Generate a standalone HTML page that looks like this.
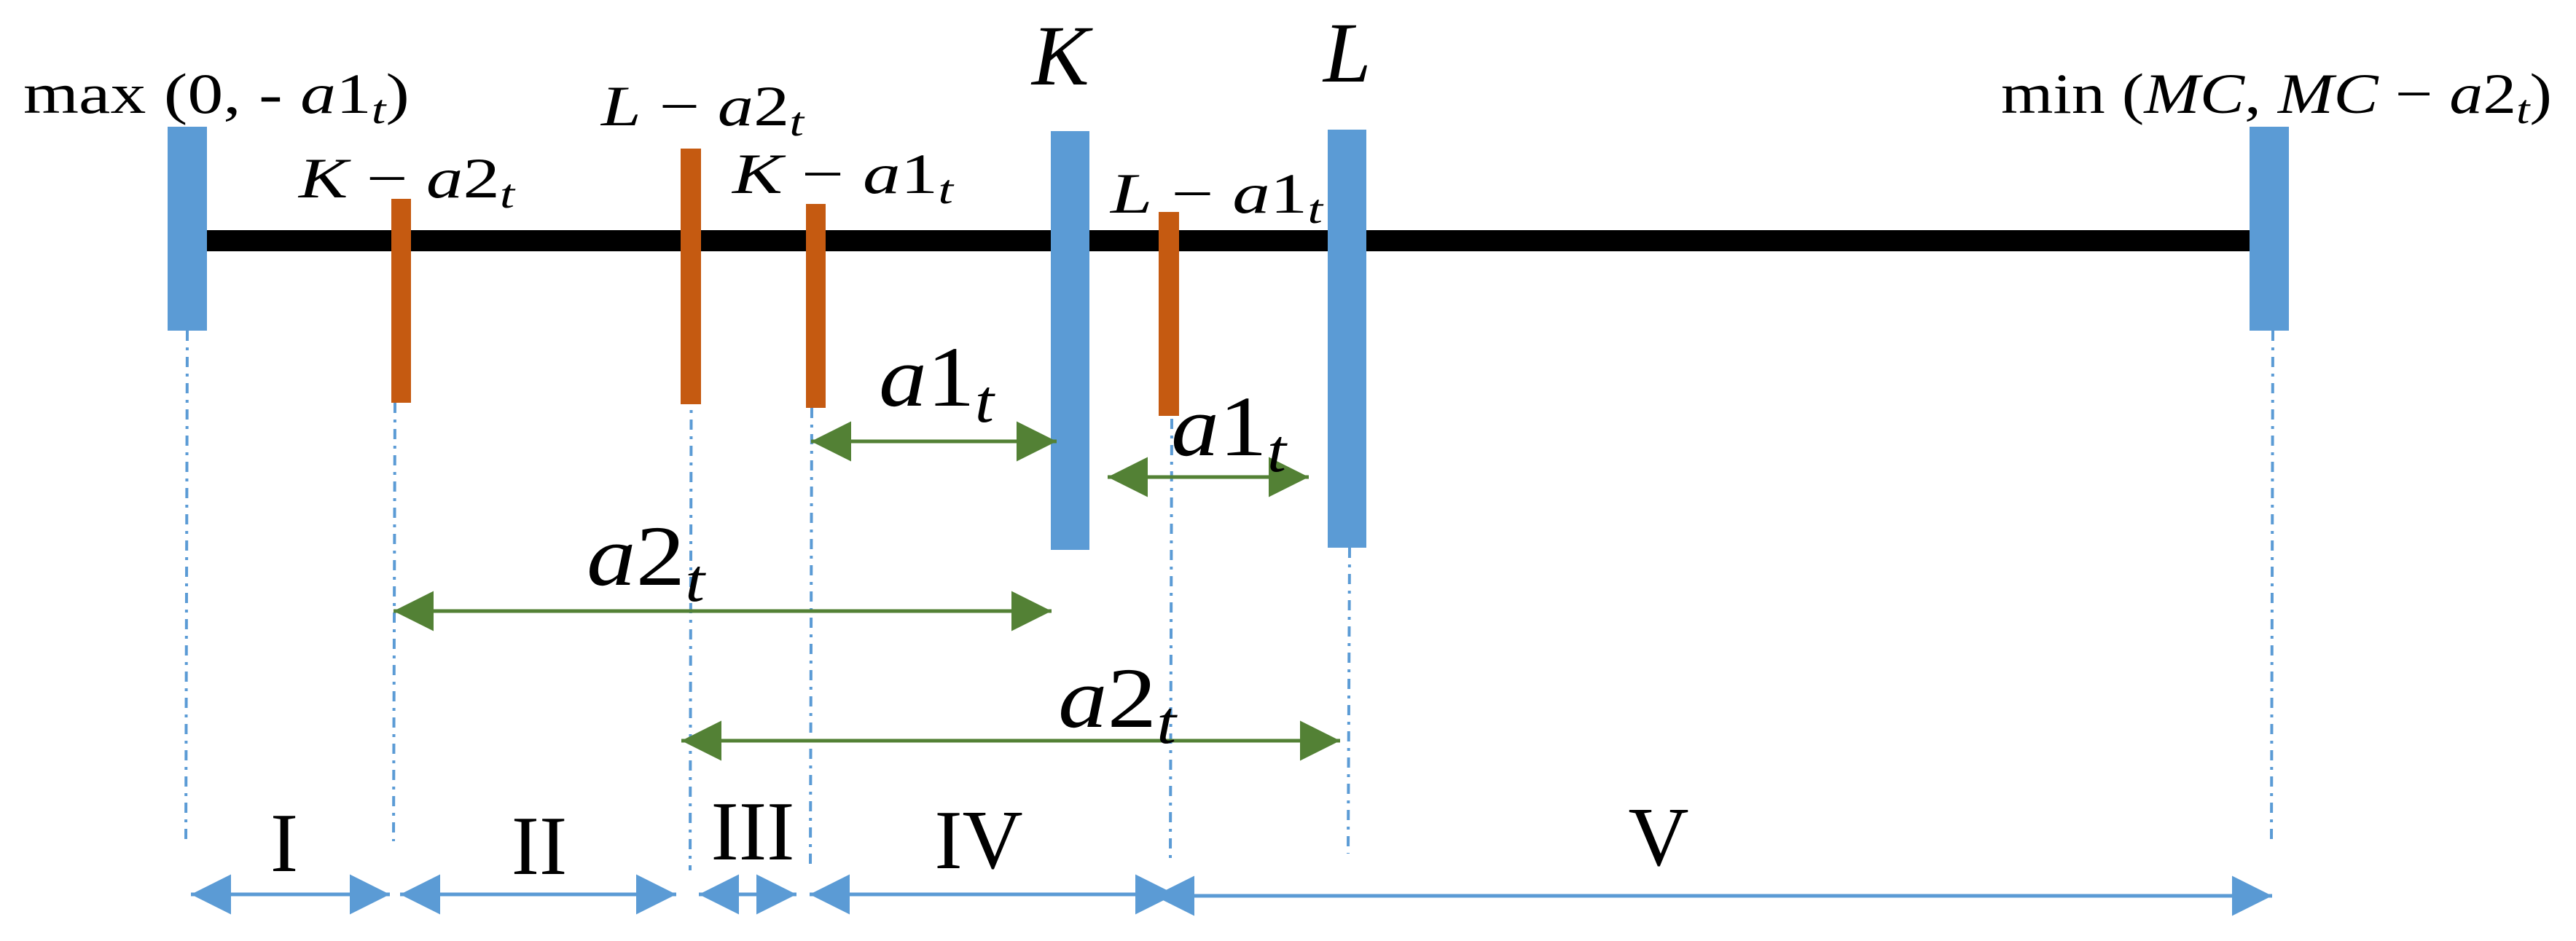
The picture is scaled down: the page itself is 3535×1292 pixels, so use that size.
<!DOCTYPE html>
<html><head><meta charset="utf-8"><style>
html,body{margin:0;padding:0;background:#fff;}
svg{display:block;}
.m{font-family:"Liberation Serif",serif;font-style:italic;}
.r{font-family:"Liberation Serif",serif;}
</style></head><body>
<svg width="3535" height="1292" viewBox="0 0 3535 1292" xmlns="http://www.w3.org/2000/svg">
<defs>
<marker id="g" viewBox="0 0 10 10" refX="10" refY="5" markerWidth="11" markerHeight="11" markerUnits="strokeWidth" orient="auto-start-reverse"><path d="M0,0 L10,5 L0,10 z" fill="#538135"/></marker>
<marker id="b" viewBox="0 0 10 10" refX="10" refY="5" markerWidth="11" markerHeight="11" markerUnits="strokeWidth" orient="auto-start-reverse"><path d="M0,0 L10,5 L0,10 z" fill="#5b9bd5"/></marker>
</defs>
<rect x="270" y="316" width="2840" height="29" fill="#000"/>
<g stroke="#5b9bd5" stroke-width="4" stroke-dasharray="14,9,4,9" fill="none">
<line x1="257" y1="454" x2="255" y2="1160"/>
<line x1="542" y1="553" x2="540" y2="1155"/>
<line x1="949" y1="360" x2="947" y2="1195"/>
<line x1="1114" y1="560" x2="1112" y2="1190"/>
<line x1="1608" y1="575" x2="1606" y2="1180"/>
<line x1="1852" y1="752" x2="1850" y2="1172"/>
<line x1="3119" y1="454" x2="3117" y2="1158"/>
</g>
<g fill="#5b9bd5">
<rect x="230" y="174" width="54" height="280"/>
<rect x="1442" y="180" width="53" height="575"/>
<rect x="1822" y="178" width="53" height="574"/>
<rect x="3087" y="174" width="54" height="280"/>
</g>
<g fill="#c55a11">
<rect x="537" y="273" width="27" height="280"/>
<rect x="934" y="204" width="28" height="351"/>
<rect x="1106" y="280" width="27" height="280"/>
<rect x="1590" y="291" width="28" height="280"/>
</g>
<g stroke="#538135" stroke-width="5" fill="none">
<line x1="1113" y1="606" x2="1450" y2="606" marker-start="url(#g)" marker-end="url(#g)"/>
<line x1="1520" y1="655" x2="1796" y2="655" marker-start="url(#g)" marker-end="url(#g)"/>
<line x1="540" y1="839" x2="1443" y2="839" marker-start="url(#g)" marker-end="url(#g)"/>
<line x1="935" y1="1017" x2="1839" y2="1017" marker-start="url(#g)" marker-end="url(#g)"/>
</g>
<g stroke="#5b9bd5" stroke-width="5" fill="none">
<line x1="262" y1="1228" x2="535" y2="1228" marker-start="url(#b)" marker-end="url(#b)"/>
<line x1="549" y1="1228" x2="928" y2="1228" marker-start="url(#b)" marker-end="url(#b)"/>
<line x1="959" y1="1228" x2="1093" y2="1228" marker-start="url(#b)" marker-end="url(#b)"/>
<line x1="1111" y1="1228" x2="1613" y2="1228" marker-start="url(#b)" marker-end="url(#b)"/>
<line x1="1584" y1="1230" x2="3118" y2="1230" marker-start="url(#b)" marker-end="url(#b)"/>
</g>
<text x="32" y="155" font-size="78" textLength="530" lengthAdjust="spacingAndGlyphs"><tspan class="r">max (0, - </tspan><tspan class="m">a</tspan><tspan class="r">1</tspan><tspan class="m" font-size="56" dy="14">t</tspan><tspan class="r" dy="-14">)</tspan></text>
<text x="825" y="172" font-size="78" textLength="278" lengthAdjust="spacingAndGlyphs"><tspan class="m">L</tspan><tspan class="r"> − </tspan><tspan class="m">a</tspan><tspan class="r">2</tspan><tspan class="m" font-size="56" dy="14">t</tspan></text>
<text x="410" y="271" font-size="78" textLength="296" lengthAdjust="spacingAndGlyphs"><tspan class="m">K</tspan><tspan class="r"> − </tspan><tspan class="m">a</tspan><tspan class="r">2</tspan><tspan class="m" font-size="56" dy="14">t</tspan></text>
<text x="1005" y="265" font-size="78" textLength="303" lengthAdjust="spacingAndGlyphs"><tspan class="m">K</tspan><tspan class="r"> − </tspan><tspan class="m">a</tspan><tspan class="r">1</tspan><tspan class="m" font-size="56" dy="14">t</tspan></text>
<text x="1524" y="292" font-size="78" textLength="291" lengthAdjust="spacingAndGlyphs"><tspan class="m">L</tspan><tspan class="r"> − </tspan><tspan class="m">a</tspan><tspan class="r">1</tspan><tspan class="m" font-size="56" dy="14">t</tspan></text>
<text x="1416" y="116" font-size="118" class="m">K</text>
<text x="1816" y="112" font-size="118" class="m">L</text>
<text x="2746" y="155" font-size="78" textLength="756" lengthAdjust="spacingAndGlyphs"><tspan class="r">min (</tspan><tspan class="m">MC</tspan><tspan class="r">, </tspan><tspan class="m">MC</tspan><tspan class="r"> − </tspan><tspan class="m">a</tspan><tspan class="r">2</tspan><tspan class="m" font-size="56" dy="14">t</tspan><tspan class="r" dy="-14">)</tspan></text>
<text x="1206" y="557" font-size="118" textLength="158" lengthAdjust="spacingAndGlyphs"><tspan class="m">a</tspan><tspan class="r">1</tspan><tspan class="m" font-size="84" dy="22">t</tspan></text>
<text x="1607" y="625" font-size="118" textLength="158" lengthAdjust="spacingAndGlyphs"><tspan class="m">a</tspan><tspan class="r">1</tspan><tspan class="m" font-size="84" dy="22">t</tspan></text>
<text x="805" y="803" font-size="118" textLength="162" lengthAdjust="spacingAndGlyphs"><tspan class="m">a</tspan><tspan class="r">2</tspan><tspan class="m" font-size="84" dy="22">t</tspan></text>
<text x="1452" y="998" font-size="118" textLength="162" lengthAdjust="spacingAndGlyphs"><tspan class="m">a</tspan><tspan class="r">2</tspan><tspan class="m" font-size="84" dy="22">t</tspan></text>
<g class="r" font-size="115" text-anchor="middle">
<text x="390" y="1196">I</text>
<text x="740" y="1200">II</text>
<text x="1033" y="1180">III</text>
<text x="1343" y="1192">IV</text>
<text x="2276" y="1188">V</text>
</g>
</svg>
</body></html>
